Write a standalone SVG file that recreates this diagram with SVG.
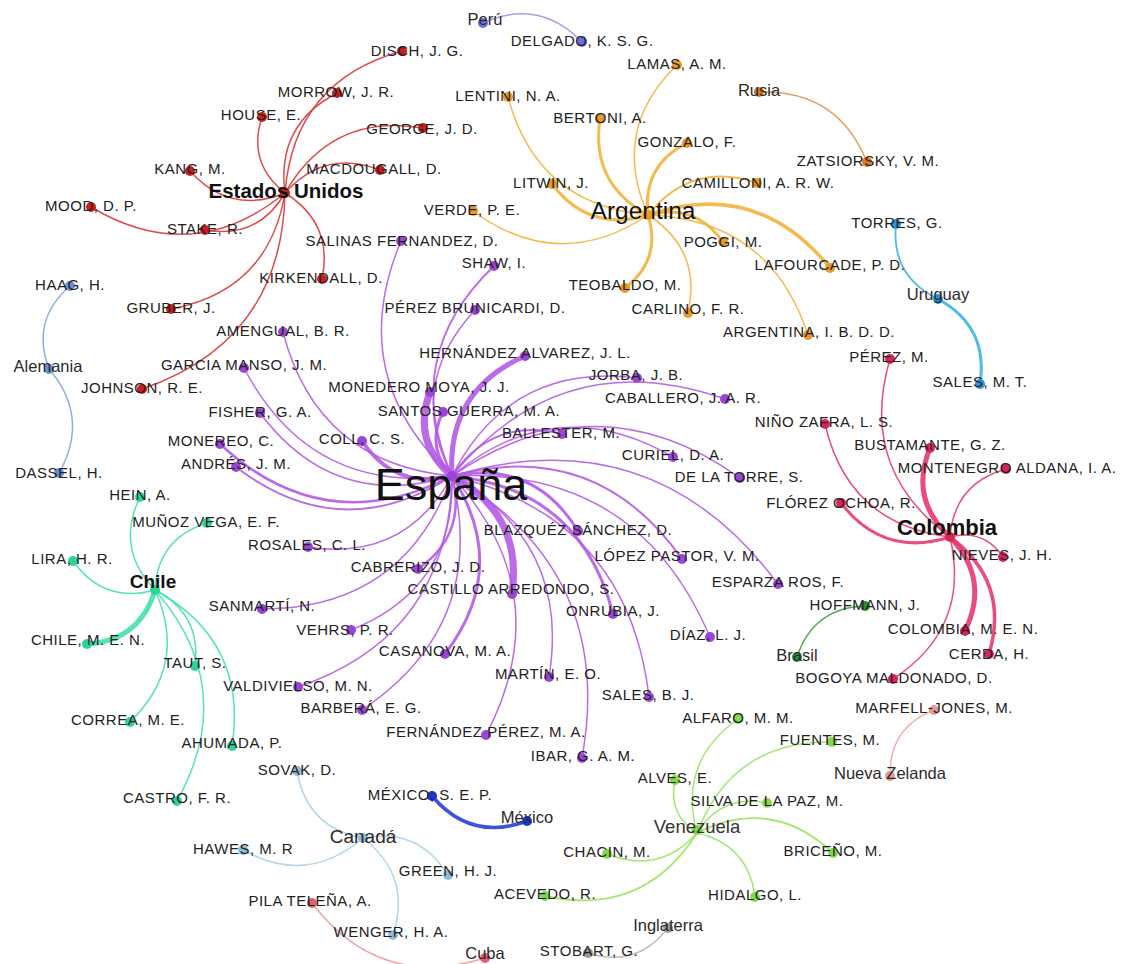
<svg xmlns="http://www.w3.org/2000/svg" width="1125" height="964" viewBox="0 0 1125 964">
<style>
.bg{fill:#fff}
.lbl{font-family:"Liberation Sans",Arial,Helvetica,sans-serif;font-size:15px;letter-spacing:0.5px;fill:#222;text-anchor:middle}
.ctry{font-family:"Liberation Sans",Arial,Helvetica,sans-serif;font-size:16.5px;fill:#2a2a2a;text-anchor:middle}
.big{font-weight:bold;fill:#111}
.e{fill:none;stroke-linecap:round;stroke-opacity:0.9}
.es{stroke:#b45ae6}.eu{stroke:#d93a3a}.ar{stroke:#f2b23c}.co{stroke:#e63a6e}.cl{stroke:#45e0ae}
.ve{stroke:#98e460}.ca{stroke:#a9d3e6}.mx{stroke:#2a3fd6}.uy{stroke:#38b4e4}.de{stroke:#80a8dc}
.pe{stroke:#9a9ae6}.ru{stroke:#e49448}.br{stroke:#44a244}.nz{stroke:#eeaaa4}.cu{stroke:#ee9aa0}.en{stroke:#b8b8b8}
.n{stroke:none}
.nes{fill:#9b45d6}.neu{fill:#c81e1e}.nar{fill:#e89a22}.nco{fill:#d8245a}.ncl{fill:#2fd39a}
.nve{fill:#84d94a}.nca{fill:#8fbcd9}.nmx{fill:#1f34c8}.nuy{fill:#2a94d8}.nde{fill:#6890d4}
.npe{fill:#6c6ce6}.nru{fill:#e07a20}.nbr{fill:#2f8f2f}.nnz{fill:#e59a96}.ncu{fill:#e0606e}.nen{fill:#9a9a9a}
</style>
<rect class="bg" x="0" y="0" width="1125" height="964"/>
<g id="connectors">
<!-- España -->
<path class="e es" stroke-width="1.5" d="M452,476Q344.3,376.4 401,241"/>
<path class="e es" stroke-width="1.8" d="M452,476Q399.5,356.3 494,266"/>
<path class="e es" stroke-width="1.5" d="M452,476Q405.4,385 475,310"/>
<path class="e es" stroke-width="1.5" d="M452,476Q317.1,463.2 283,332"/>
<path class="e es" stroke-width="5" d="M452,476Q446.5,390.5 525,356"/>
<path class="e es" stroke-width="1.5" d="M452,476Q310.2,494.8 244,368"/>
<path class="e es" stroke-width="1.5" d="M452,476Q510.2,362.3 637,378"/>
<path class="e es" stroke-width="7" d="M452,476Q411.6,441.7 430,392"/>
<path class="e es" stroke-width="3" d="M452,476Q425.1,447.2 443,412"/>
<path class="e es" stroke-width="1.5" d="M452,476Q561.6,342 725,399"/>
<path class="e es" stroke-width="1.5" d="M452,476Q334,511.7 260,413"/>
<path class="e es" stroke-width="4" d="M452,476Q394.8,490 362,441"/>
<path class="e es" stroke-width="2" d="M452,476Q492.3,416.5 562,434"/>
<path class="e es" stroke-width="2.5" d="M452,476Q324.8,541.2 220,444"/>
<path class="e es" stroke-width="1.5" d="M452,476Q555.9,389.2 673,457"/>
<path class="e es" stroke-width="2" d="M452,476Q340.9,547.1 236,467"/>
<path class="e es" stroke-width="1.5" d="M452,476Q596.7,376.2 740,478"/>
<path class="e es" stroke-width="3" d="M452,476Q534.3,459.4 578,531"/>
<path class="e es" stroke-width="1.5" d="M452,476Q404.9,561.9 308,547"/>
<path class="e es" stroke-width="2" d="M452,476Q596.1,437 682,559"/>
<path class="e es" stroke-width="2.5" d="M452,476Q467.6,534.4 418,569"/>
<path class="e es" stroke-width="1.5" d="M452,476Q652.8,415.9 778,584"/>
<path class="e es" stroke-width="7" d="M452,476Q523.3,514 512,594"/>
<path class="e es" stroke-width="1.5" d="M452,476Q403.6,609 262,609"/>
<path class="e es" stroke-width="3" d="M452,476Q580.8,488.7 613,614"/>
<path class="e es" stroke-width="1.5" d="M452,476Q455.4,588.4 351,630"/>
<path class="e es" stroke-width="1.5" d="M452,476Q637.4,466.2 710,637"/>
<path class="e es" stroke-width="3" d="M452,476Q510.8,567.5 445,654"/>
<path class="e es" stroke-width="1.5" d="M452,476Q448.9,635.4 298,687"/>
<path class="e es" stroke-width="1.5" d="M452,476Q570.9,542.6 549,677"/>
<path class="e es" stroke-width="1.5" d="M452,476Q627.9,517.6 649,697"/>
<path class="e es" stroke-width="1.5" d="M452,476Q488.9,624.5 362,710"/>
<path class="e es" stroke-width="1.5" d="M452,476Q559.7,593.6 486,735"/>
<path class="e es" stroke-width="1.5" d="M452,476Q615.7,571.5 582,758"/>
<!-- Estados Unidos -->
<path class="e eu" stroke-width="1.5" d="M285,193Q293.8,81 402,51"/>
<path class="e eu" stroke-width="1.5" d="M285,193Q276,124.8 337,93"/>
<path class="e eu" stroke-width="1.5" d="M285,193Q246.9,163 262,117"/>
<path class="e eu" stroke-width="1.5" d="M285,193Q331.3,112.2 423,128"/>
<path class="e eu" stroke-width="1.5" d="M285,193Q324.5,148.3 380,170"/>
<path class="e eu" stroke-width="1.5" d="M285,193Q229.8,215.3 190,171"/>
<path class="e eu" stroke-width="1.5" d="M285,193Q192.9,267.9 91,207"/>
<path class="e eu" stroke-width="1.5" d="M285,193Q258,239.5 205,230"/>
<path class="e eu" stroke-width="1.5" d="M285,193Q333.6,223 322,279"/>
<path class="e eu" stroke-width="1.5" d="M285,193Q268.6,290.9 171,309"/>
<path class="e eu" stroke-width="1.5" d="M285,193Q282.1,341 142,389"/>
<!-- Argentina -->
<path class="e ar" stroke-width="1.5" d="M648,215Q610,129.9 677,65"/>
<path class="e ar" stroke-width="1.5" d="M648,215Q536.7,205 508,97"/>
<path class="e ar" stroke-width="3" d="M648,215Q590.4,183.8 600,119"/>
<path class="e ar" stroke-width="3" d="M648,215Q642.3,165.4 687,143"/>
<path class="e ar" stroke-width="3" d="M648,215Q589.2,233.1 552,184"/>
<path class="e ar" stroke-width="1.5" d="M648,215Q559.1,274.3 473,211"/>
<path class="e ar" stroke-width="2" d="M648,215Q691.3,160.9 757,183"/>
<path class="e ar" stroke-width="3" d="M648,215Q695,202.3 723,242"/>
<path class="e ar" stroke-width="3.5" d="M648,215Q757.6,177.8 830,268"/>
<path class="e ar" stroke-width="3" d="M648,215Q662.1,259.6 625,288"/>
<path class="e ar" stroke-width="1.5" d="M648,215Q702.3,250 688,313"/>
<path class="e ar" stroke-width="1.5" d="M648,215Q770,219 808,335"/>
<!-- small groups -->
<path class="e ru" stroke-width="1.5" d="M759,92Q837.5,89.2 867,162"/>
<path class="e pe" stroke-width="1.5" d="M483,23Q539.2,-2.2 582,42"/>
<path class="e uy" stroke-width="1.8" d="M938,299Q890.8,276.2 896,224"/>
<path class="e uy" stroke-width="3" d="M938,299Q988.8,326.8 980,384"/>
<path class="e de" stroke-width="1.5" d="M49,369Q30.5,320.2 70,286"/>
<path class="e de" stroke-width="1.5" d="M49,369Q90.4,417.5 59,473"/>
<!-- Colombia -->
<path class="e co" stroke-width="1.5" d="M950,537Q857.7,469 890,359"/>
<path class="e co" stroke-width="1.5" d="M950,537Q848,524.3 825,424"/>
<path class="e co" stroke-width="5" d="M950,537Q908.9,499.5 930,448"/>
<path class="e co" stroke-width="1.5" d="M950,537Q954.2,483.4 1006,469"/>
<path class="e co" stroke-width="3" d="M950,537Q883.6,558.2 841,503"/>
<path class="e co" stroke-width="1.5" d="M950,537Q983.5,528.5 1003,557"/>
<path class="e co" stroke-width="5" d="M950,537Q990.4,578.8 965,631"/>
<path class="e co" stroke-width="3.5" d="M950,537Q1010.5,581.9 989,654"/>
<path class="e co" stroke-width="1.5" d="M950,537Q971.2,628 893,679"/>
<!-- Chile -->
<path class="e cl" stroke-width="1.5" d="M155,590Q115,548.8 140,497"/>
<path class="e cl" stroke-width="1.5" d="M155,590Q157.6,538.3 207,523"/>
<path class="e cl" stroke-width="1.5" d="M155,590Q103.9,604.2 73,561"/>
<path class="e cl" stroke-width="5" d="M155,590Q139.9,640.8 87,644"/>
<path class="e cl" stroke-width="1.5" d="M155,590Q201.6,614 195,666"/>
<path class="e cl" stroke-width="1.5" d="M155,590Q188.7,664.8 130,722"/>
<path class="e cl" stroke-width="1.5" d="M155,590Q248.1,641.1 232,746"/>
<path class="e cl" stroke-width="1.5" d="M155,590Q239.9,687.8 177,801"/>
<!-- Venezuela -->
<path class="e ve" stroke-width="1.5" d="M697,833Q677.6,761.7 738,719"/>
<path class="e ve" stroke-width="1.5" d="M697,833Q732.7,740.3 832,742"/>
<path class="e ve" stroke-width="1.5" d="M697,833Q667.5,814.2 675,780"/>
<path class="e ve" stroke-width="1.5" d="M697,833Q721.5,793.5 767,803"/>
<path class="e ve" stroke-width="1.8" d="M697,833Q772,795.4 833,853"/>
<path class="e ve" stroke-width="1.5" d="M697,833Q659.4,875 607,854"/>
<path class="e ve" stroke-width="1.8" d="M697,833Q643.1,917.7 545,896"/>
<path class="e ve" stroke-width="1.5" d="M697,833Q748.4,844.7 755,897"/>
<!-- Canadá -->
<path class="e ca" stroke-width="1.5" d="M363,838Q306.6,827.6 297,771"/>
<path class="e ca" stroke-width="1.5" d="M363,838Q307.2,886 243,850"/>
<path class="e ca" stroke-width="1.5" d="M363,838Q418.5,826.8 448,875"/>
<path class="e ca" stroke-width="1.5" d="M363,838Q412,876 393,935"/>
<!-- others -->
<path class="e mx" stroke-width="3.5" d="M527,821Q470.8,841.8 432,796"/>
<path class="e br" stroke-width="1.5" d="M797,657Q813.2,607.7 865,606"/>
<path class="e nz" stroke-width="1.5" d="M890,776Q888.9,727.6 934,710"/>
<path class="e cu" stroke-width="1.5" d="M485,958Q379.3,991 312,903"/>
<path class="e en" stroke-width="1.5" d="M668,928Q636.8,968.5 588,953"/>
</g>
<g id="nodes">
<!-- Estados Unidos group -->
<g id="n-disch"><circle class="n neu" cx="402" cy="51" r="5"/><text class="lbl" x="417" y="56">DISCH, J. G.</text></g>
<g id="n-morrow"><circle class="n neu" cx="337" cy="93" r="5"/><text class="lbl" x="336" y="97">MORROW, J. R.</text></g>
<g id="n-house"><circle class="n neu" cx="262" cy="117" r="5"/><text class="lbl" x="261" y="120">HOUSE, E.</text></g>
<g id="n-george"><circle class="n neu" cx="423" cy="128" r="5"/><text class="lbl" x="422" y="134">GEORGE, J. D.</text></g>
<g id="n-macdougall"><circle class="n neu" cx="380" cy="170" r="5"/><text class="lbl" x="374" y="174">MACDOUGALL, D.</text></g>
<g id="n-kang"><circle class="n neu" cx="190" cy="171" r="5"/><text class="lbl" x="190" y="174">KANG, M.</text></g>
<g id="n-mood"><circle class="n neu" cx="91" cy="207" r="5"/><text class="lbl" x="91" y="211">MOOD, D. P.</text></g>
<g id="n-stake"><circle class="n neu" cx="205" cy="230" r="5"/><text class="lbl" x="205" y="234">STAKE, R.</text></g>
<g id="n-kirkendall"><circle class="n neu" cx="322" cy="279" r="5"/><text class="lbl" x="321" y="283">KIRKENDALL, D.</text></g>
<g id="n-gruber"><circle class="n neu" cx="171" cy="309" r="5"/><text class="lbl" x="171" y="313">GRUBER, J.</text></g>
<g id="n-johnson"><circle class="n neu" cx="142" cy="389" r="5"/><text class="lbl" x="142" y="393">JOHNSON, R. E.</text></g>
<g id="n-eeuu"><circle class="n neu" cx="285" cy="193" r="5"/><text class="ctry big" x="286" y="198" style="font-size:20.5px">Estados Unidos</text></g>
<!-- Argentina group -->
<g id="n-lamas"><circle class="n nar" cx="677" cy="65" r="5"/><text class="lbl" x="677" y="69">LAMAS, A. M.</text></g>
<g id="n-lentini"><circle class="n nar" cx="508" cy="97" r="5"/><text class="lbl" x="508" y="101">LENTINI, N. A.</text></g>
<g id="n-bertoni"><circle class="n nar" cx="600" cy="119" r="5"/><text class="lbl" x="600" y="123">BERTONI, A.</text></g>
<g id="n-gonzalo"><circle class="n nar" cx="687" cy="143" r="5"/><text class="lbl" x="687" y="147">GONZALO, F.</text></g>
<g id="n-litwin"><circle class="n nar" cx="552" cy="184" r="5"/><text class="lbl" x="551" y="188">LITWIN, J.</text></g>
<g id="n-verde"><circle class="n nar" cx="473" cy="211" r="5"/><text class="lbl" x="472" y="215">VERDE, P. E.</text></g>
<g id="n-camilloni"><circle class="n nar" cx="757" cy="183" r="5"/><text class="lbl" x="758" y="188">CAMILLONI, A. R. W.</text></g>
<g id="n-poggi"><circle class="n nar" cx="723" cy="242" r="5"/><text class="lbl" x="723" y="247">POGGI, M.</text></g>
<g id="n-lafourcade"><circle class="n nar" cx="830" cy="268" r="5"/><text class="lbl" x="830" y="270">LAFOURCADE, P. D.</text></g>
<g id="n-teobaldo"><circle class="n nar" cx="625" cy="288" r="5"/><text class="lbl" x="625" y="290">TEOBALDO, M.</text></g>
<g id="n-carlino"><circle class="n nar" cx="688" cy="313" r="5"/><text class="lbl" x="688" y="314">CARLINO, F. R.</text></g>
<g id="n-argibdd"><circle class="n nar" cx="808" cy="335" r="5"/><text class="lbl" x="809" y="337">ARGENTINA, I. B. D. D.</text></g>
<g id="n-argentina"><circle class="n nar" cx="648" cy="215" r="5"/><text class="ctry" x="643" y="219" style="font-size:24.5px;fill:#111">Argentina</text></g>
<!-- Rusia, Perú, Uruguay, Alemania -->
<g id="n-zatsiorsky"><circle class="n nru" cx="867" cy="162" r="5"/><text class="lbl" x="868" y="166">ZATSIORSKY, V. M.</text></g>
<g id="n-rusia"><circle class="n nru" cx="759" cy="92" r="5"/><text class="ctry" x="759" y="96">Rusia</text></g>
<g id="n-delgado"><circle class="n npe" cx="582" cy="42" r="5"/><text class="lbl" x="582" y="46">DELGADO, K. S. G.</text></g>
<g id="n-peru"><circle class="n npe" cx="483" cy="23" r="5"/><text class="ctry" x="485" y="25">Perú</text></g>
<g id="n-torres"><circle class="n nuy" cx="896" cy="224" r="5"/><text class="lbl" x="897" y="228">TORRES, G.</text></g>
<g id="n-salesmt"><circle class="n nuy" cx="980" cy="384" r="5"/><text class="lbl" x="980" y="387">SALES, M. T.</text></g>
<g id="n-uruguay"><circle class="n nuy" cx="938" cy="299" r="5"/><text class="ctry" x="938" y="300">Uruguay</text></g>
<g id="n-haag"><circle class="n nde" cx="70" cy="286" r="5"/><text class="lbl" x="70" y="290">HAAG, H.</text></g>
<g id="n-dassel"><circle class="n nde" cx="59" cy="473" r="5"/><text class="lbl" x="59" y="478">DASSEL, H.</text></g>
<g id="n-alemania"><circle class="n nde" cx="49" cy="369" r="5"/><text class="ctry" x="48" y="372">Alemania</text></g>
<!-- España group -->
<g id="n-salinas"><circle class="n nes" cx="401" cy="241" r="5"/><text class="lbl" x="402" y="246">SALINAS FERNANDEZ, D.</text></g>
<g id="n-shaw"><circle class="n nes" cx="494" cy="266" r="5"/><text class="lbl" x="494" y="268">SHAW, I.</text></g>
<g id="n-perezbrunicardi"><circle class="n nes" cx="475" cy="310" r="5"/><text class="lbl" x="475" y="313">PÉREZ BRUNICARDI, D.</text></g>
<g id="n-amengual"><circle class="n nes" cx="283" cy="332" r="5"/><text class="lbl" x="283" y="336">AMENGUAL, B. R.</text></g>
<g id="n-hernandez"><circle class="n nes" cx="525" cy="356" r="5"/><text class="lbl" x="525" y="358">HERNÁNDEZ ALVAREZ, J. L.</text></g>
<g id="n-garciamanso"><circle class="n nes" cx="244" cy="368" r="5"/><text class="lbl" x="244" y="370">GARCIA MANSO, J. M.</text></g>
<g id="n-jorba"><circle class="n nes" cx="637" cy="378" r="5"/><text class="lbl" x="636" y="380">JORBA, J. B.</text></g>
<g id="n-monedero"><circle class="n nes" cx="430" cy="392" r="5"/><text class="lbl" x="419" y="392">MONEDERO MOYA, J. J.</text></g>
<g id="n-caballero"><circle class="n nes" cx="725" cy="399" r="5"/><text class="lbl" x="683" y="403">CABALLERO, J. A. R.</text></g>
<g id="n-fisher"><circle class="n nes" cx="260" cy="413" r="5"/><text class="lbl" x="260" y="417">FISHER, G. A.</text></g>
<g id="n-santosguerra"><circle class="n nes" cx="443" cy="412" r="5"/><text class="lbl" x="469" y="416">SANTOS GUERRA, M. A.</text></g>
<g id="n-coll"><circle class="n nes" cx="362" cy="441" r="5"/><text class="lbl" x="362" y="444">COLL, C. S.</text></g>
<g id="n-ballester"><circle class="n nes" cx="562" cy="434" r="5"/><text class="lbl" x="561" y="438">BALLESTER, M.</text></g>
<g id="n-monereo"><circle class="n nes" cx="220" cy="444" r="5"/><text class="lbl" x="221" y="446">MONEREO, C.</text></g>
<g id="n-curiel"><circle class="n nes" cx="673" cy="457" r="5"/><text class="lbl" x="673" y="460">CURIEL, D. A.</text></g>
<g id="n-andres"><circle class="n nes" cx="236" cy="467" r="5"/><text class="lbl" x="236" y="469">ANDRÉS, J. M.</text></g>
<g id="n-delatorre"><circle class="n nes" cx="740" cy="478" r="5"/><text class="lbl" x="739" y="482">DE LA TORRE, S.</text></g>
<g id="n-blazquez"><circle class="n nes" cx="578" cy="531" r="5"/><text class="lbl" x="578" y="535">BLAZQUÉZ SÁNCHEZ, D.</text></g>
<g id="n-rosales"><circle class="n nes" cx="308" cy="547" r="5"/><text class="lbl" x="307" y="550">ROSALES, C. L.</text></g>
<g id="n-lopezpastor"><circle class="n nes" cx="682" cy="559" r="5"/><text class="lbl" x="677" y="561">LÓPEZ PASTOR, V. M.</text></g>
<g id="n-cabrerizo"><circle class="n nes" cx="418" cy="569" r="5"/><text class="lbl" x="418" y="572">CABRERIZO, J. D.</text></g>
<g id="n-esparza"><circle class="n nes" cx="778" cy="584" r="5"/><text class="lbl" x="778" y="587">ESPARZA ROS, F.</text></g>
<g id="n-castillo"><circle class="n nes" cx="512" cy="594" r="5"/><text class="lbl" x="511" y="594">CASTILLO ARREDONDO, S.</text></g>
<g id="n-sanmarti"><circle class="n nes" cx="262" cy="609" r="5"/><text class="lbl" x="262" y="611">SANMARTÍ, N.</text></g>
<g id="n-onrubia"><circle class="n nes" cx="613" cy="614" r="5"/><text class="lbl" x="613" y="616">ONRUBIA, J.</text></g>
<g id="n-vehrs"><circle class="n nes" cx="351" cy="630" r="5"/><text class="lbl" x="345" y="635">VEHRS, P. R.</text></g>
<g id="n-diaz"><circle class="n nes" cx="710" cy="637" r="5"/><text class="lbl" x="708" y="640">DÍAZ, L. J.</text></g>
<g id="n-casanova"><circle class="n nes" cx="445" cy="654" r="5"/><text class="lbl" x="445" y="656">CASANOVA, M. A.</text></g>
<g id="n-valdivielso"><circle class="n nes" cx="298" cy="687" r="5"/><text class="lbl" x="298" y="691">VALDIVIELSO, M. N.</text></g>
<g id="n-martin"><circle class="n nes" cx="549" cy="677" r="5"/><text class="lbl" x="548" y="679">MARTÍN, E. O.</text></g>
<g id="n-salesbj"><circle class="n nes" cx="649" cy="697" r="5"/><text class="lbl" x="648" y="700">SALES, B. J.</text></g>
<g id="n-barbera"><circle class="n nes" cx="362" cy="710" r="5"/><text class="lbl" x="361" y="713">BARBERÁ, E. G.</text></g>
<g id="n-fernandezperez"><circle class="n nes" cx="486" cy="735" r="5"/><text class="lbl" x="486" y="737">FERNÁNDEZ PÉREZ, M. A.</text></g>
<g id="n-ibar"><circle class="n nes" cx="582" cy="758" r="5"/><text class="lbl" x="583" y="761">IBAR, G. A. M.</text></g>
<g id="n-espana"><circle class="n nes" cx="452" cy="476" r="5"/><text class="ctry" x="451" y="500" style="font-size:45px;fill:#111">España</text></g>
<!-- Chile group -->
<g id="n-hein"><circle class="n ncl" cx="140" cy="497" r="5"/><text class="lbl" x="140" y="500">HEIN, A.</text></g>
<g id="n-munoz"><circle class="n ncl" cx="207" cy="523" r="5"/><text class="lbl" x="206" y="527">MUÑOZ VEGA, E. F.</text></g>
<g id="n-lira"><circle class="n ncl" cx="73" cy="561" r="5"/><text class="lbl" x="72" y="564">LIRA, H. R.</text></g>
<g id="n-chilemen"><circle class="n ncl" cx="87" cy="644" r="5"/><text class="lbl" x="88" y="645">CHILE, M. E. N.</text></g>
<g id="n-taut"><circle class="n ncl" cx="195" cy="666" r="5"/><text class="lbl" x="195" y="668">TAUT, S.</text></g>
<g id="n-correa"><circle class="n ncl" cx="130" cy="722" r="5"/><text class="lbl" x="128" y="725">CORREA, M. E.</text></g>
<g id="n-ahumada"><circle class="n ncl" cx="232" cy="746" r="5"/><text class="lbl" x="232" y="748">AHUMADA, P.</text></g>
<g id="n-castro"><circle class="n ncl" cx="177" cy="801" r="5"/><text class="lbl" x="177" y="803">CASTRO, F. R.</text></g>
<g id="n-chile"><circle class="n ncl" cx="155" cy="590" r="5"/><text class="ctry big" x="153" y="588" style="font-size:19px">Chile</text></g>
<!-- Canadá, Cuba, México -->
<g id="n-sovak"><circle class="n nca" cx="297" cy="771" r="5"/><text class="lbl" x="297" y="775">SOVAK, D.</text></g>
<g id="n-hawes"><circle class="n nca" cx="243" cy="850" r="5"/><text class="lbl" x="243" y="854">HAWES, M. R</text></g>
<g id="n-green"><circle class="n nca" cx="448" cy="875" r="5"/><text class="lbl" x="448" y="876">GREEN, H. J.</text></g>
<g id="n-wenger"><circle class="n nca" cx="393" cy="935" r="5"/><text class="lbl" x="391" y="937">WENGER, H. A.</text></g>
<g id="n-canada"><circle class="n nca" cx="363" cy="838" r="5"/><text class="ctry" x="363" y="843" style="font-size:19px">Canadá</text></g>
<g id="n-pila"><circle class="n ncu" cx="312" cy="903" r="5"/><text class="lbl" x="310" y="906">PILA TELEÑA, A.</text></g>
<g id="n-cuba"><circle class="n ncu" cx="485" cy="958" r="5"/><text class="ctry" x="485" y="959">Cuba</text></g>
<g id="n-mexicosep"><circle class="n nmx" cx="432" cy="796" r="5"/><text class="lbl" x="430" y="800">MÉXICO, S. E. P.</text></g>
<g id="n-mexico"><circle class="n nmx" cx="527" cy="821" r="5"/><text class="ctry" x="527" y="823">México</text></g>
<!-- Venezuela group -->
<g id="n-alfaro"><circle class="n nve" cx="738" cy="719" r="5"/><text class="lbl" x="738" y="723">ALFARO, M. M.</text></g>
<g id="n-fuentes"><circle class="n nve" cx="832" cy="742" r="5"/><text class="lbl" x="830" y="745">FUENTES, M.</text></g>
<g id="n-alves"><circle class="n nve" cx="675" cy="780" r="5"/><text class="lbl" x="675" y="783">ALVES, E.</text></g>
<g id="n-silva"><circle class="n nve" cx="767" cy="803" r="5"/><text class="lbl" x="767" y="806">SILVA DE LA PAZ, M.</text></g>
<g id="n-briceno"><circle class="n nve" cx="833" cy="853" r="5"/><text class="lbl" x="833" y="856">BRICEÑO, M.</text></g>
<g id="n-chacin"><circle class="n nve" cx="607" cy="854" r="5"/><text class="lbl" x="607" y="857">CHACIN, M.</text></g>
<g id="n-acevedo"><circle class="n nve" cx="545" cy="896" r="5"/><text class="lbl" x="545" y="899">ACEVEDO, R.</text></g>
<g id="n-hidalgo"><circle class="n nve" cx="755" cy="897" r="5"/><text class="lbl" x="755" y="900">HIDALGO, L.</text></g>
<g id="n-venezuela"><circle class="n nve" cx="697" cy="830" r="5"/><text class="ctry" x="697" y="833" style="font-size:18.5px;fill:#333">Venezuela</text></g>
<g id="n-stobart"><circle class="n nen" cx="588" cy="953" r="5"/><text class="lbl" x="589" y="956">STOBART, G.</text></g>
<g id="n-inglaterra"><circle class="n nen" cx="668" cy="928" r="5"/><text class="ctry" x="668" y="931">Inglaterra</text></g>
<!-- Colombia group -->
<g id="n-perezm"><circle class="n nco" cx="890" cy="359" r="5"/><text class="lbl" x="889" y="362">PÉREZ, M.</text></g>
<g id="n-nino"><circle class="n nco" cx="825" cy="424" r="5"/><text class="lbl" x="824" y="427">NIÑO ZAFRA, L. S.</text></g>
<g id="n-bustamante"><circle class="n nco" cx="930" cy="448" r="5"/><text class="lbl" x="930" y="450">BUSTAMANTE, G. Z.</text></g>
<g id="n-montenegro"><circle class="n nco" cx="1006" cy="469" r="5"/><text class="lbl" x="1007" y="473">MONTENEGRO ALDANA, I. A.</text></g>
<g id="n-florez"><circle class="n nco" cx="841" cy="503" r="5"/><text class="lbl" x="841" y="508">FLÓREZ OCHOA, R.</text></g>
<g id="n-nieves"><circle class="n nco" cx="1003" cy="557" r="5"/><text class="lbl" x="1002" y="560">NIEVES, J. H.</text></g>
<g id="n-colombiamen"><circle class="n nco" cx="965" cy="631" r="5"/><text class="lbl" x="963" y="634">COLOMBIA, M. E. N.</text></g>
<g id="n-cerda"><circle class="n nco" cx="989" cy="654" r="5"/><text class="lbl" x="989" y="659">CERDA, H.</text></g>
<g id="n-bogoya"><circle class="n nco" cx="893" cy="679" r="5"/><text class="lbl" x="894" y="683">BOGOYA MALDONADO, D.</text></g>
<g id="n-colombia"><circle class="n nco" cx="950" cy="537" r="5"/><text class="ctry big" x="947" y="535" style="font-size:22px">Colombia</text></g>
<g id="n-hoffmann"><circle class="n nbr" cx="865" cy="606" r="5"/><text class="lbl" x="865" y="610">HOFFMANN, J.</text></g>
<g id="n-brasil"><circle class="n nbr" cx="797" cy="657" r="5"/><text class="ctry" x="797" y="661">Brasil</text></g>
<g id="n-marfell"><circle class="n nnz" cx="934" cy="710" r="5"/><text class="lbl" x="934" y="713">MARFELL-JONES, M.</text></g>
<g id="n-nuevazelanda"><circle class="n nnz" cx="890" cy="776" r="5"/><text class="ctry" x="890" y="779">Nueva Zelanda</text></g>
</g>
</svg>
